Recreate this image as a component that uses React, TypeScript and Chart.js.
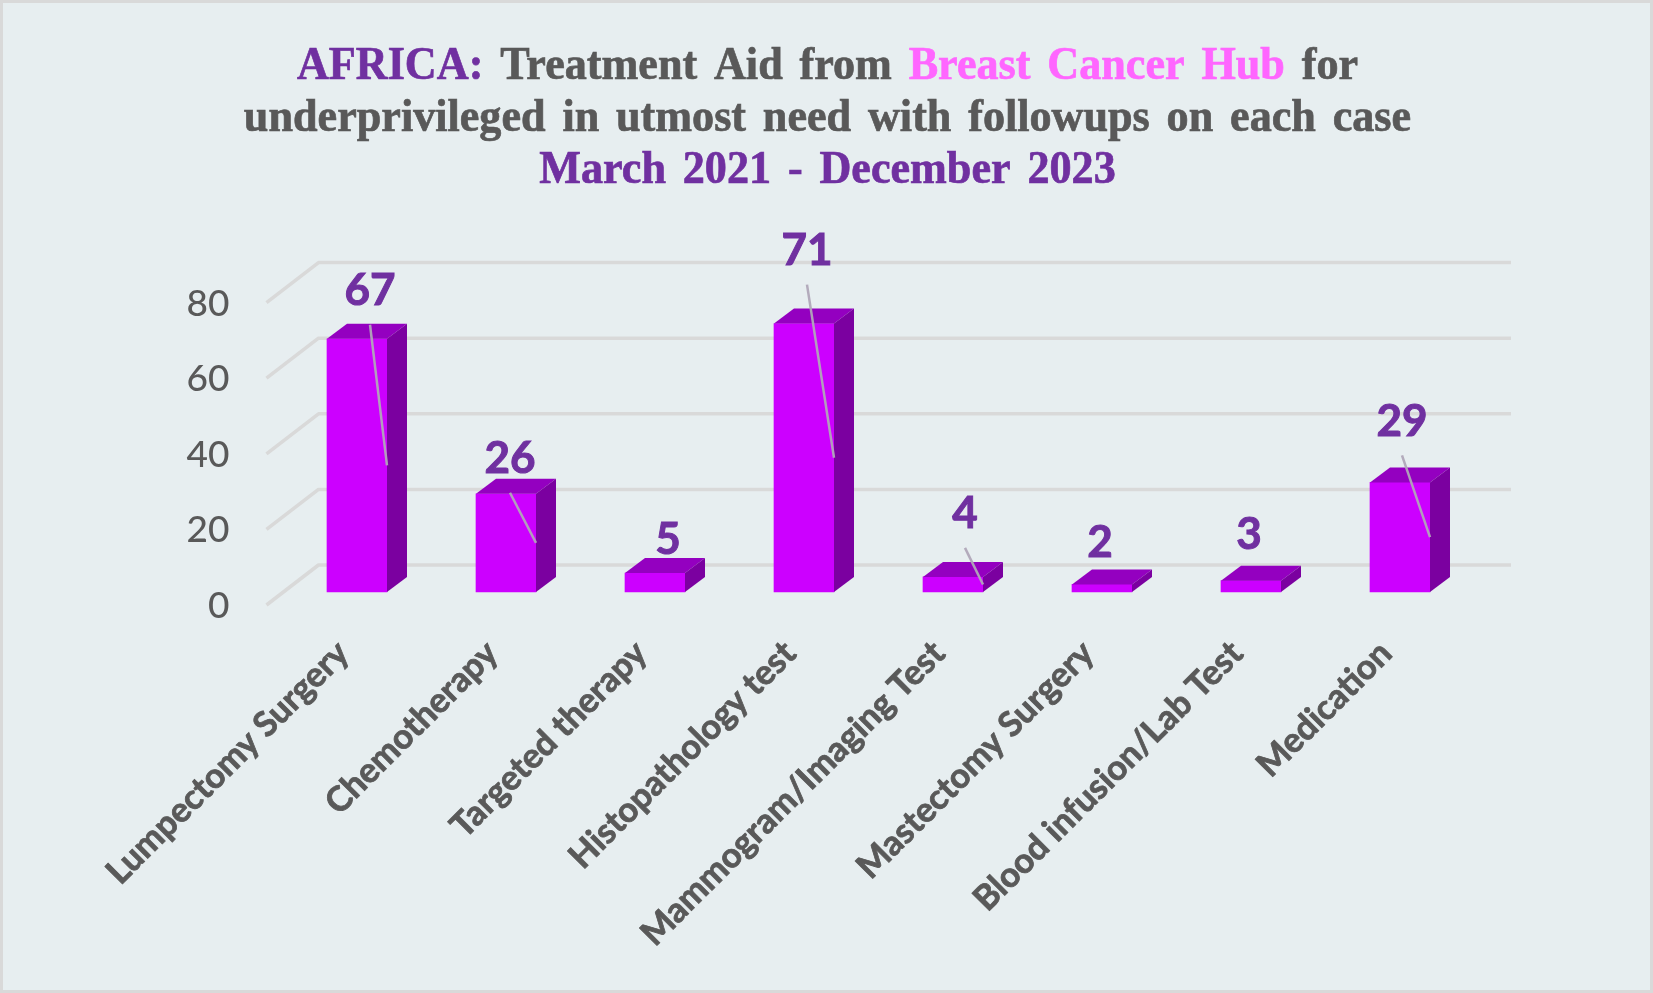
import React, { useEffect, useRef } from "react";
import { Chart, registerables } from "chart.js";

Chart.register(...registerables);

const categories = [
  "Lumpectomy Surgery",
  "Chemotherapy",
  "Targeted therapy",
  "Histopathology test",
  "Mammogram/Imaging Test",
  "Mastectomy Surgery",
  "Blood infusion/Lab Test",
  "Medication",
];
const caseCounts = [67, 26, 5, 71, 4, 2, 3, 29];
const yTicks = [0, 20, 40, 60, 80];

const labelShift: [number, number][] = [
  [13, -48], [4, -35], [13, -33], [3, -73], [12, -63], [-2, -42], [-2, -46], [2, -61],
];
const hasLeader = [true, true, false, true, true, false, false, true];

type Seg = [string, string];
const titleLines: Seg[][] = [
  [["AFRICA: ", "#7030A0"], ["Treatment Aid from ", "#595959"], ["Breast Cancer Hub ", "#FF66FF"], ["for", "#595959"]],
  [["underprivileged in utmost need with followups on each case", "#595959"]],
  [["March 2021 - December 2023", "#7030A0"]],
];
const titleBaselines = [79, 131, 183];

const BG = "#E7EEF0";
const GRID = "#D9D9D9";
const FRONT = "#CC00FF";
const TOP = "#9400C0";
const SIDE = "#7B00A0";
const DX = 20;
const DY = 15;
const BACK_DX = 52;
const BACK_DY = 40;
const GRID_END = 1511;
const BAR_OFFSET_UNITS = 13 / 3.78;

const scene = {
  id: "scene",
  beforeDraw(chart: any) {
    const { ctx, width, height } = chart;
    ctx.save();
    ctx.fillStyle = BG;
    ctx.fillRect(0, 0, width, height);
    ctx.strokeStyle = GRID;
    ctx.lineWidth = 3;
    ctx.strokeRect(1.5, 1.5, width - 3, height - 3);

    // title
    const sx = 0.96;
    ctx.font = "bold 46px 'Liberation Serif'";
    ctx.wordSpacing = "6px";
    ctx.textAlign = "left";
    ctx.textBaseline = "alphabetic";
    titleLines.forEach((segs, i) => {
      const total = segs.reduce((s, g) => s + ctx.measureText(g[0]).width, 0) * sx;
      let x = 827.5 - total / 2;
      segs.forEach(([t, c]) => {
        ctx.save();
        ctx.translate(x, titleBaselines[i]);
        ctx.scale(sx, 1);
        ctx.fillStyle = c;
        ctx.strokeStyle = c;
        ctx.lineWidth = 0.7;
        ctx.fillText(t, 0, 0);
        ctx.strokeText(t, 0, 0);
        ctx.restore();
        x += ctx.measureText(t).width * sx;
      });
    });
    ctx.wordSpacing = "0px";

    // 3-D grid: wall lines plus floor diagonals
    const y = chart.scales.y;
    const left = chart.chartArea.left;
    ctx.strokeStyle = GRID;
    ctx.lineWidth = 3.5;
    ctx.lineJoin = "round";
    yTicks.forEach((v) => {
      const py = y.getPixelForValue(v);
      ctx.beginPath();
      ctx.moveTo(left - 16, py);
      ctx.lineTo(left - 16 + BACK_DX, py - BACK_DY);
      ctx.lineTo(GRID_END, py - BACK_DY);
      ctx.stroke();
    });
    ctx.restore();
  },
  afterDatasetsDraw(chart: any) {
    const { ctx } = chart;
    const bars = chart.getDatasetMeta(0).data;
    ctx.save();
    bars.forEach((b: any) => {
      const hw = b.width / 2;
      ctx.fillStyle = TOP;
      ctx.beginPath();
      ctx.moveTo(b.x - hw, b.y);
      ctx.lineTo(b.x + hw, b.y);
      ctx.lineTo(b.x + hw + DX, b.y - DY);
      ctx.lineTo(b.x - hw + DX, b.y - DY);
      ctx.closePath();
      ctx.fill();
      ctx.fillStyle = SIDE;
      ctx.beginPath();
      ctx.moveTo(b.x + hw, b.y);
      ctx.lineTo(b.x + hw + DX, b.y - DY);
      ctx.lineTo(b.x + hw + DX, b.base - DY);
      ctx.lineTo(b.x + hw, b.base);
      ctx.closePath();
      ctx.fill();
    });
    // leader lines and value labels
    bars.forEach((b: any, i: number) => {
      const lx = b.x + labelShift[i][0];
      const ly = b.y + labelShift[i][1];
      if (hasLeader[i]) {
        ctx.strokeStyle = "rgba(176,166,184,0.95)";
        ctx.lineWidth = 2.5;
        ctx.beginPath();
        ctx.moveTo(lx, ly + 34);
        ctx.lineTo(b.x + b.width / 2, (b.y + b.base) / 2);
        ctx.stroke();
      }
      ctx.fillStyle = "#7030A0";
      ctx.strokeStyle = "#7030A0";
      ctx.lineWidth = 1;
      ctx.font = "bold 44px Lato";
      ctx.textAlign = "center";
      ctx.textBaseline = "middle";
      ctx.fillText(String(caseCounts[i]), lx, ly);
      ctx.strokeText(String(caseCounts[i]), lx, ly);
    });
    ctx.restore();
  },
};

export default function App() {
  const ref = useRef<HTMLCanvasElement>(null);
  useEffect(() => {
    document.body.style.margin = "0";
    const chart = new Chart(ref.current!, {
      type: "bar",
      data: {
        labels: categories,
        datasets: [
          {
            data: caseCounts,
            backgroundColor: FRONT,
            borderWidth: 0,
            barThickness: 60,
            yAxisID: "yBar",
          },
        ],
      },
      options: {
        animation: false,
        responsive: false,
        layout: { padding: { left: 0, right: 178.5, top: 302.6, bottom: 0 } },
        plugins: { legend: { display: false }, tooltip: { enabled: false }, title: { display: false } },
        scales: {
          x: {
            grid: { display: false, drawTicks: false },
            border: { display: false },
            afterFit: (s: any) => { s.height = 388; },
            ticks: {
              autoSkip: false,
              minRotation: 45,
              maxRotation: 45,
              padding: 28,
              labelOffset: -14,
              color: "#595959",
              textStrokeColor: "#595959",
              textStrokeWidth: 0.8,
              font: { family: "Lato", weight: "bold", size: 34.5 },
            },
          },
          y: {
            min: 0,
            max: 80,
            grid: { display: false, drawTicks: false },
            border: { display: false },
            afterFit: (s: any) => { s.width = 282.5; },
            afterBuildTicks: (s: any) => { s.ticks = yTicks.map((value) => ({ value })); },
            ticks: {
              padding: 53,
              labelOffset: 1,
              color: "#595959",
              font: { family: "Lato", weight: "500", size: 37 },
            },
          },
          yBar: {
            display: false,
            min: -BAR_OFFSET_UNITS,
            max: 80 - BAR_OFFSET_UNITS,
          },
        },
      },
      plugins: [scene],
    } as any);
    return () => chart.destroy();
  }, []);
  return (
    <div style={{ width: 1653, height: 993 }}>
      <canvas ref={ref} width={1653} height={993} style={{ display: "block" }} />
    </div>
  );
}
